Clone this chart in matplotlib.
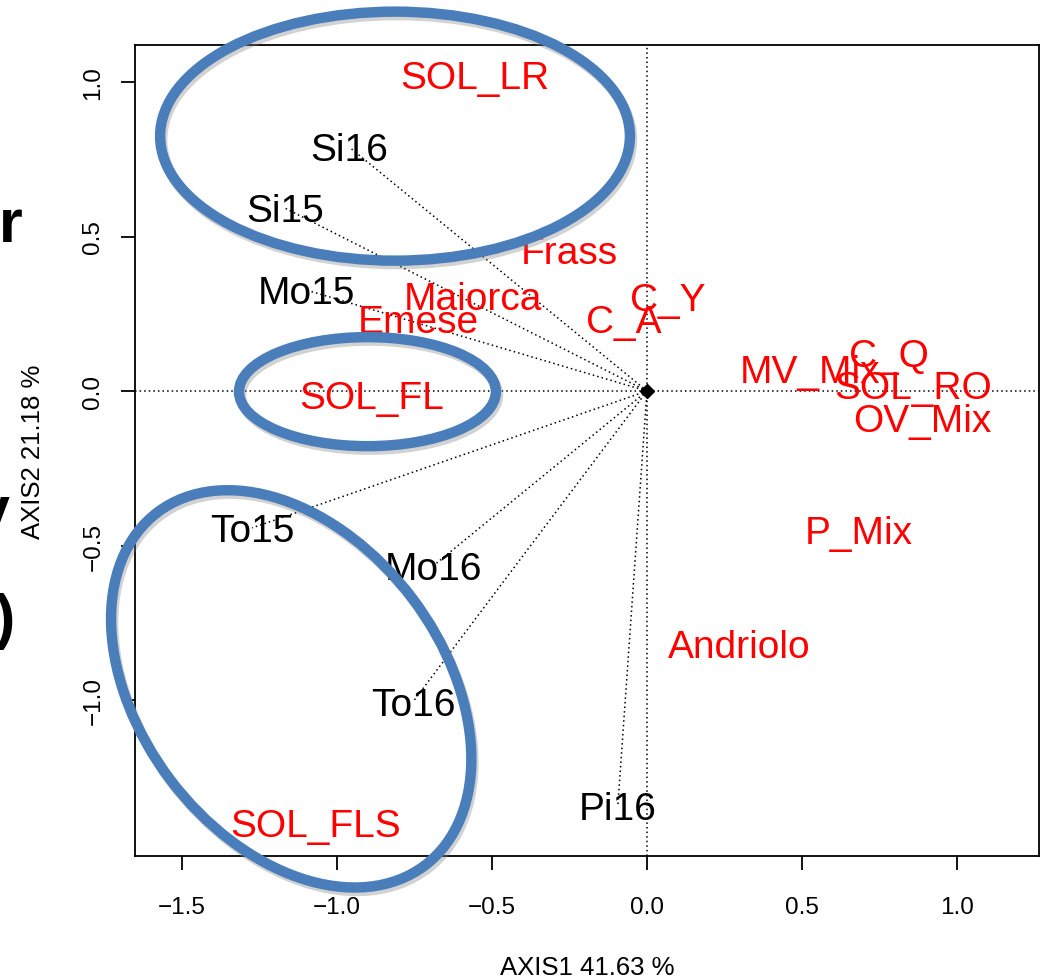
import matplotlib
matplotlib.use('Agg')
import matplotlib.pyplot as plt
import matplotlib.patheffects as pe
from matplotlib.patches import Ellipse

plt.rcParams['font.family'] = ['Liberation Sans', 'DejaVu Sans']

# sites (black, joined to the origin)
sites = ['Si16', 'Si15', 'Mo15', 'To15', 'Mo16', 'To16', 'Pi16']
site_x = [-0.961, -1.168, -1.100, -1.274, -0.690, -0.755, -0.094]
site_y = [0.790, 0.592, 0.327, -0.443, -0.566, -1.006, -1.343]

# species (red)
species = ['SOL_LR', 'Frass', 'Maiorca', 'Emese', 'C_Y', 'C_A', 'SOL_FL',
           'MV_Mix', 'C_Q', 'SOL_RO', 'OV_Mix', 'P_Mix', 'Andriolo', 'SOL_FLS']
species_x = [-0.555, -0.252, -0.561, -0.739, 0.068, -0.074, -0.890,
             0.526, 0.781, 0.858, 0.887, 0.684, 0.297, -1.068]
species_y = [1.023, 0.456, 0.307, 0.233, 0.304, 0.233, -0.013,
             0.071, 0.123, 0.019, -0.087, -0.450, -0.819, -1.398]

xticks = [-1.5, -1.0, -0.5, 0.0, 0.5, 1.0]
yticks = [-1.0, -0.5, 0.0, 0.5, 1.0]
xlabel = 'AXIS1 41.63 %'
ylabel = 'AXIS2 21.18 %'

W, H = 1042, 979


class Styles():

    dotted = {'color': 'black', 'linestyle': (0, (1, 2)), 'linewidth': 1.1}

    site = {'color': 'black', 'fontsize': 28, 'ha': 'center', 'va': 'center',
            'textcoords': 'offset points', 'xytext': (0, -2)}

    species = {'color': 'red', 'fontsize': 28, 'ha': 'center', 'va': 'center',
               'textcoords': 'offset points', 'xytext': (0, -2)}

    ring = {'fill': False, 'edgecolor': '#4a7ebb', 'linewidth': 7.5,
            'clip_on': False, 'zorder': 10}

    slide = {'color': 'black', 'fontsize': 44, 'fontweight': 'bold',
             'ha': 'right', 'va': 'baseline'}


def ticklabels(ticks):
    return ['%.1f' % t if t >= 0 else '\u2212%.1f' % -t for t in ticks]


fig = plt.figure(figsize=(W / 100, H / 100), dpi=100)
ax = fig.add_axes([135 / W, (H - 857) / H, 904 / W, 811 / H])

ax.set_xlim(-1.652, 1.265)
ax.set_ylim(-1.505, 1.120)

# reference axes through the origin
ax.axhline(0, **Styles.dotted)
ax.axvline(0, **Styles.dotted)

for x, y in zip(site_x, site_y):
    ax.plot([0, x], [0, y], **Styles.dotted)
ax.plot([0], [0], marker='D', markersize=7, color='black')

for name, x, y in zip(sites, site_x, site_y):
    ax.annotate(name, (x, y), **Styles.site)
for name, x, y in zip(species, species_x, species_y):
    ax.annotate(name, (x, y), **Styles.species)

# groups circled by hand on the slide
shadow = [pe.SimpleLineShadow(offset=(1.5, -2.5), shadow_color='gray', alpha=0.35),
          pe.Normal()]
for cx, cy, w, h, ang in [(-0.813, 0.825, 1.516, 0.806, 0),
                          (-0.902, -0.002, 0.829, 0.353, 0),
                          (-1.148, -0.964, 1.432, 0.977, -53)]:
    e = Ellipse((cx, cy), w, h, angle=ang, **Styles.ring)
    e.set_path_effects(shadow)
    ax.add_patch(e)

ax.set_xticks(xticks)
ax.set_xticklabels(ticklabels(xticks))
ax.set_yticks(yticks)
ax.set_yticklabels(ticklabels(yticks), rotation=90, va='center')
ax.tick_params(length=10, width=1.3, labelsize=17.5)
ax.tick_params(axis='x', pad=19)
ax.tick_params(axis='y', pad=12)
for s in ax.spines.values():
    s.set_linewidth(1.3)

ax.set_xlabel(xlabel, fontsize=18.5)
ax.xaxis.label.set_va('center')
ax.xaxis.set_label_coords(0.5, -0.137)
ax.set_ylabel(ylabel, fontsize=18.5)
ax.yaxis.label.set_va('center')
ax.yaxis.set_label_coords(-0.113, 0.5)

# slide text cut off at the left edge
fig.text(23 / W, (H - 242) / H, 'r', **Styles.slide)
fig.text(10 / W, (H - 529) / H, 'y', **Styles.slide)
fig.text(15 / W, (H - 637) / H, ')', **Styles.slide)

fig.savefig('out.png', dpi=100)
